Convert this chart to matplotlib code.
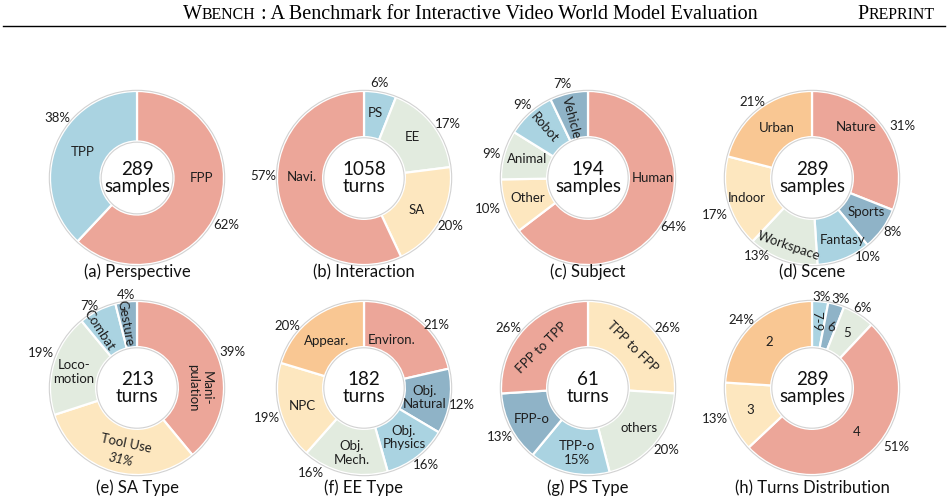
import numpy as np
import matplotlib.pyplot as plt
from matplotlib.patches import Circle
from matplotlib.lines import Line2D

plt.rcParams['font.family'] = ['Lato', 'DejaVu Sans']

# colours used across the donuts
SALMON = '#eca699'
LBLUE = '#aad3e1'
GREEN = '#e2ebdf'
CREAM = '#fde7bf'
STEEL = '#8fb3c7'
PEACH = '#f9c793'

# (a) Perspective
a_names = ['FPP', 'TPP']
a_sizes = [62, 38]
a_pcts = ['62%', '38%']
a_colors = [SALMON, LBLUE]

# (b) Interaction
b_names = ['PS', 'EE', 'SA', 'Navi.']
b_sizes = [6, 17, 20, 57]
b_pcts = ['6%', '17%', '20%', '57%']
b_colors = [LBLUE, GREEN, CREAM, SALMON]

# (c) Subject
c_names = ['Human', 'Other', 'Animal', 'Robot', 'Vehicle']
c_sizes = [64, 10, 9, 9, 7]
c_pcts = ['64%', '10%', '9%', '9%', '7%']
c_colors = [SALMON, CREAM, GREEN, LBLUE, STEEL]

# (d) Scene
d_names = ['Nature', 'Sports', 'Fantasy', 'Workspace', 'Indoor', 'Urban']
d_sizes = [31, 8, 10, 13, 17, 21]
d_pcts = ['31%', '8%', '10%', '13%', '17%', '21%']
d_colors = [SALMON, STEEL, LBLUE, GREEN, CREAM, PEACH]

# (e) SA Type
e_names = ['Mani-\npulation', 'Tool Use', 'Loco-\nmotion', 'Combat', 'Gesture']
e_sizes = [39, 31, 19, 7, 4]
e_pcts = ['39%', '31%', '19%', '7%', '4%']
e_colors = [SALMON, CREAM, GREEN, LBLUE, STEEL]

# (f) EE Type (wedge counts as drawn, labels as printed)
f_names = ['Environ.', 'Obj.\nNatural', 'Obj.\nPhysics', 'Obj.\nMech.', 'NPC', 'Appear.']
f_sizes = [39, 22, 22, 29, 33, 37]
f_pcts = ['21%', '12%', '16%', '16%', '19%', '20%']
f_colors = [SALMON, STEEL, LBLUE, GREEN, CREAM, PEACH]

# (g) PS Type
g_names = ['TPP to FPP', 'others', 'TPP-o\n15%', 'FPP-o', 'FPP to TPP']
g_sizes = [26, 20, 15, 13, 26]
g_pcts = ['26%', '20%', '', '13%', '26%']
g_colors = [CREAM, GREEN, LBLUE, STEEL, SALMON]

# (h) Turns Distribution
h_names = ['7-9', '6', '5', '4', '3', '2']
h_sizes = [3, 3, 6, 51, 13, 24]
h_pcts = ['3%', '3%', '6%', '51%', '13%', '24%']
h_colors = [LBLUE, STEEL, GREEN, SALMON, CREAM, PEACH]

centers = ['289\nsamples', '1058\nturns', '194\nsamples', '289\nsamples',
           '213\nturns', '182\nturns', '61\nturns', '289\nsamples']
titles = ['(a) Perspective', '(b) Interaction', '(c) Subject', '(d) Scene',
          '(e) SA Type', '(f) EE Type', '(g) PS Type', '(h) Turns Distribution']

# label placement: (angle in degrees, radius, rotation)
a_name_pos = [(0, 0.74, 0), (154, 0.69, 0)]
a_pct_pos = [(-28, 1.16, 0), (143, 1.15, 0)]
b_name_pos = [(80, 0.76, 0), (40, 0.73, 0), (-31, 0.71, 0), (179, 0.72, 0)]
b_pct_pos = [(81, 1.10, 0), (33, 1.15, 0), (-29, 1.14, 0), (179, 1.16, 0)]
c_name_pos = [(0, 0.74, 0), (198, 0.73, 0), (163, 0.73, 0), (131, 0.76, -49), (105, 0.72, -75)]
c_pct_pos = [(-30, 1.13, 0), (197, 1.2, 0), (166, 1.14, 0), (132, 1.13, 0), (105, 1.12, 0)]
d_name_pos = [(49, 0.77, 0), (-32, 0.74, 0), (-64, 0.79, 0), (-109, 0.83, -19),
              (197, 0.78, 0), (125, 0.70, 0)]
d_pct_pos = [(30, 1.2, 0), (-34, 1.12, 0), (-55, 1.11, 0), (-125, 1.1, 0),
             (201, 1.19, 0), (128, 1.11, 0)]
e_name_pos = [(0, 0.72, -90), (-101, 0.65, -12), (166, 0.75, 0), (123, 0.80, -57), (100, 0.76, -80)]
e_pct_pos = [(21, 1.17, 0), (-103, 0.84, -12), (160, 1.17, 0), (120, 1.09, 0), (97, 1.08, 0)]
f_name_pos = [(60, 0.64, 0), (-9, 0.70, 0), (-51, 0.73, 0), (-101, 0.76, 0),
              (196, 0.74, 0), (129, 0.69, 0)]
f_pct_pos = [(41, 1.10, 0), (-10, 1.14, 0), (-51, 1.14, 0), (-122, 1.15, 0),
             (197, 1.17, 0), (141, 1.14, 0)]
g_name_pos = [(43, 0.69, -45), (-38, 0.75, 0), (-100, 0.76, 0), (-151, 0.74, 0), (139, 0.70, 45)]
g_pct_pos = [(37, 1.14, 0), (-38, 1.15, 0), (0, 0, 0), (-151, 1.16, 0), (143, 1.15, 0)]
h_name_pos = [(86, 0.77, -90), (73, 0.73, -15), (57, 0.75, 0), (-44, 0.72, 0),
              (200, 0.75, 0), (133, 0.72, 0)]
h_pct_pos = [(84, 1.05, 0), (72, 1.07, 0), (58, 1.09, 0), (-35, 1.18, 0),
             (198, 1.17, 0), (136, 1.12, 0)]

W, H = 948, 504
fig = plt.figure(figsize=(W / 100, H / 100), dpi=100)

R = 87        # outer radius in pixels
L = 1.45      # axis half-range in data units
TXT = '#1e1e1e'


def donut(cx, cy, sizes, colors, names, name_pos, pcts, pct_pos, center,
          hole=0.47, italic_pct=()):
    half = R * L
    ax = fig.add_axes([(cx - half) / W, (H - cy - half) / H, 2 * half / W, 2 * half / H])
    ax.pie(sizes, colors=colors, startangle=90, counterclock=False, radius=1,
           wedgeprops=dict(width=1 - hole, edgecolor='white', linewidth=1.6))
    ax.add_patch(Circle((0, 0), 1.008, fill=False, ec='#d2d2d2', lw=0.8, zorder=5))
    ax.add_patch(Circle((0, 0), hole - 0.008, fill=False, ec='#d2d2d2', lw=0.8, zorder=5))
    for name, (ang, r, rot) in zip(names, name_pos):
        t = np.deg2rad(ang)
        ax.text(r * np.cos(t), r * np.sin(t), name, ha='center', va='center',
                rotation=rot, fontsize=9.5, color=TXT, linespacing=1.15, zorder=6)
    for i, (p, (ang, r, rot)) in enumerate(zip(pcts, pct_pos)):
        if not p:
            continue
        t = np.deg2rad(ang)
        ax.text(r * np.cos(t), r * np.sin(t), p, ha='center', va='center',
                rotation=rot, fontsize=9.5, color=TXT, zorder=6,
                style='italic' if i in italic_pct else 'normal')
    ax.text(0, 0, center, ha='center', va='center', fontsize=13.5, color='#111111',
            linespacing=1.05, zorder=6)
    ax.set_xlim(-L, L)
    ax.set_ylim(-L, L)
    ax.set_aspect('equal')
    ax.axis('off')


col_x = [137, 364, 588, 812]
row_y = [178, 388]
title_y = [272, 488]

charts = [
    (a_sizes, a_colors, a_names, a_name_pos, a_pcts, a_pct_pos),
    (b_sizes, b_colors, b_names, b_name_pos, b_pcts, b_pct_pos),
    (c_sizes, c_colors, c_names, c_name_pos, c_pcts, c_pct_pos),
    (d_sizes, d_colors, d_names, d_name_pos, d_pcts, d_pct_pos),
    (e_sizes, e_colors, e_names, e_name_pos, e_pcts, e_pct_pos),
    (f_sizes, f_colors, f_names, f_name_pos, f_pcts, f_pct_pos),
    (g_sizes, g_colors, g_names, g_name_pos, g_pcts, g_pct_pos),
    (h_sizes, h_colors, h_names, h_name_pos, h_pcts, h_pct_pos),
]

for k, ch in enumerate(charts):
    row, col = divmod(k, 4)
    hole = 0.42 if k == 0 else 0.47
    italic = (1,) if k == 4 else ()
    donut(col_x[col], row_y[row], *ch, centers[k], hole=hole, italic_pct=italic)
    fig.text(col_x[col] / W, 1 - title_y[row] / H, titles[k], ha='center', va='center',
             fontsize=12, color='#111111')

# running header with small caps
renderer = fig.canvas.get_renderer()
serif = 'Liberation Serif'
base = 1 - 19 / H


def chain(x, pieces):
    made = []
    for s, size in pieces:
        t = fig.text(x, base, s, fontsize=size, family=serif, va='baseline', color='black')
        made.append(t)
        x = t.get_window_extent(renderer).x1 / W
    return x, made


chain(183 / W, [('W', 14.5), ('BENCH', 11.4),
                (' : A Benchmark for Interactive Video World Model Evaluation', 14.5)])
end, pre_texts = chain(0, [('P', 14.5), ('REPRINT', 11.4)])
# shift PREPRINT so it ends at the right margin
shift = 935 / W - end
for t in pre_texts:
    t.set_x(t.get_position()[0] + shift)

fig.add_artist(Line2D([3 / W, 945 / W], [1 - 26 / H] * 2, color='black', lw=1.0))

fig.savefig('out.png', dpi=100)
